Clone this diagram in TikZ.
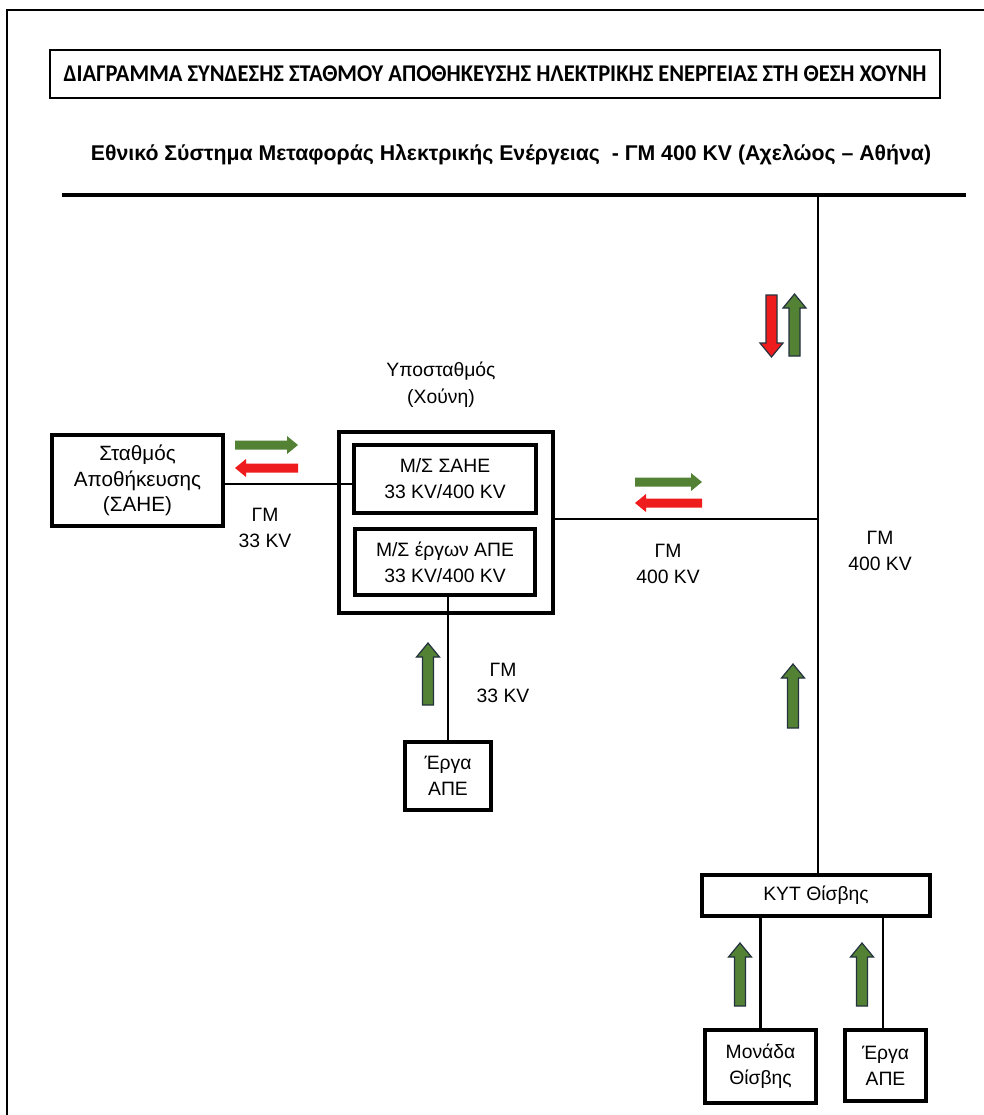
\documentclass[tikz,border=0pt]{standalone}
\usepackage{fontspec}
\setmainfont{Liberation Sans}
\newfontfamily\titlefont{Carlito}
\usepackage{graphicx}
\definecolor{agreen}{HTML}{548235}
\definecolor{ared}{HTML}{EE1C1C}
\definecolor{aedge}{HTML}{24323F}
\newcommand\hblockarrow[4]{% xtail, xhead, y, colour
  \pgfmathsetmacro\hbx{#2-11*sign(#2-#1)}%
  \fill[#4] (#1,#3-4.5) -- (\hbx,#3-4.5) -- (\hbx,#3-9) -- (#2,#3) -- (\hbx,#3+9) -- (\hbx,#3+4.5) -- (#1,#3+4.5) -- cycle;}
\newcommand\vblockarrow[4]{% x, ytail, yhead, colour
  \pgfmathsetmacro\vby{#3-14*sign(#3-#2)}%
  \filldraw[fill=#4,draw=aedge,line width=0.9pt] (#1-5.5,#2) -- (#1-5.5,\vby) -- (#1-11.5,\vby) -- (#1,#3) -- (#1+11.5,\vby) -- (#1+5.5,\vby) -- (#1+5.5,#2) -- cycle;}
\begin{document}
\begin{tikzpicture}[x=0.75pt,y=-0.75pt,
  box/.style={draw,line width=3pt,align=center,inner sep=0pt,font=\fontsize{14.5}{19.5}\selectfont},
  wire/.style={line width=1.8pt},
  lbl/.style={align=center,inner sep=0pt,font=\fontsize{14.5}{20}\selectfont}]
\useasboundingbox (0,0) rectangle (984,1115);
\fill[white] (0,0) rectangle (984,1115);
% outer frame
\draw[line width=1.6pt] (7,1120) -- (7,10) -- (990,10);
% title
\node[draw,line width=1.2pt,minimum width=890*0.75pt,minimum height=48*0.75pt,inner sep=0pt] (title) at (495,74)
  {\resizebox{647pt}{\height}{\fontsize{18}{20}\selectfont\titlefont\bfseries ΔΙΑΓΡΑΜΜΑ ΣΥΝΔΕΣΗΣ ΣΤΑΘΜΟΥ ΑΠΟΘΗΚΕΥΣΗΣ ΗΛΕΚΤΡΙΚΗΣ ΕΝΕΡΓΕΙΑΣ ΣΤΗ ΘΕΣΗ ΧΟΥΝΗ}};
\node[inner sep=0pt] (subtitle) at (511,155)
  {\resizebox{630pt}{\height}{\fontsize{16}{18}\selectfont\bfseries Εθνικό Σύστημα Μεταφοράς Ηλεκτρικής Ενέργειας\ \ - ΓΜ 400 KV (Αχελώος – Αθήνα)}};
% bus
\coordinate (busL) at (62,195);
\coordinate (busR) at (966,195);
\coordinate (busT) at (818,195);
\draw[line width=2.4pt] (busL) -- (busR);
% boxes
\node[box,font=\fontsize{15.5}{19}\selectfont,minimum width=171*0.75pt,minimum height=91*0.75pt] (sahe) at (137.5,480.5) {Σταθμός\\Αποθήκευσης\\(ΣΑΗΕ)};
\node[box,minimum width=214*0.75pt,minimum height=181*0.75pt] (sub) at (446,522.5) {};
\node[box,minimum width=182*0.75pt,minimum height=68*0.75pt] (ms1) at (445,479) {Μ/Σ ΣΑΗΕ\\33 KV/400 KV};
\node[box,minimum width=180*0.75pt,minimum height=66*0.75pt] (ms2) at (445,562) {Μ/Σ έργων ΑΠΕ\\33 KV/400 KV};
\node[box,minimum width=86*0.75pt,minimum height=68*0.75pt] (ape1) at (448,776) {Έργα\\ΑΠΕ};
\node[box,minimum width=228*0.75pt,minimum height=41*0.75pt] (kyt) at (816,895.5) {ΚΥΤ Θίσβης};
\node[box,minimum width=111*0.75pt,minimum height=73*0.75pt] (mon) at (760.5,1066.5) {Μονάδα\\Θίσβης};
\node[box,minimum width=81*0.75pt,minimum height=71*0.75pt] (ape2) at (885.5,1065.5) {Έργα\\ΑΠΕ};
% connectors
\coordinate (junc) at (818,519);
\draw[wire] (busT) -- (busT |- kyt.north);
\draw[wire] ([yshift=-2.6pt]sahe.east) -- ([yshift=-2.6pt]sahe.east -| ms1.west);
\draw[wire] ([yshift=2.6pt]sub.east) -- ([yshift=2.6pt]sub.east -| junc);
\draw[wire] (ape1.north) -- (ape1.north |- ms2.south);
\draw[wire] (mon.north) -- (mon.north |- kyt.south);
\draw[wire] ([xshift=-2pt]ape2.north) -- ([xshift=-2pt]ape2.north |- kyt.south);
% labels
\node[lbl] (lsub) at (441,385) {Υποσταθμός\\(Χούνη)};
\node[lbl] (l33a) at (265,528) {ΓΜ\\33 KV};
\node[lbl] (l400a) at (668,564) {ΓΜ\\400 KV};
\node[lbl] (l400b) at (880,551) {ΓΜ\\400 KV};
\node[lbl] (l33b) at (503,683) {ΓΜ\\33 KV};
% flow arrows
\hblockarrow{235}{298}{445}{agreen}
\hblockarrow{298}{235}{468}{ared}
\hblockarrow{635}{702}{482}{agreen}
\hblockarrow{702}{635}{503}{ared}
\vblockarrow{771.5}{295}{357}{ared}
\vblockarrow{794.5}{356}{294}{agreen}
\vblockarrow{793}{728}{664}{agreen}
\vblockarrow{428}{705}{643}{agreen}
\vblockarrow{740}{1006}{943}{agreen}
\vblockarrow{862}{1006}{943}{agreen}
\end{tikzpicture}
\end{document}
